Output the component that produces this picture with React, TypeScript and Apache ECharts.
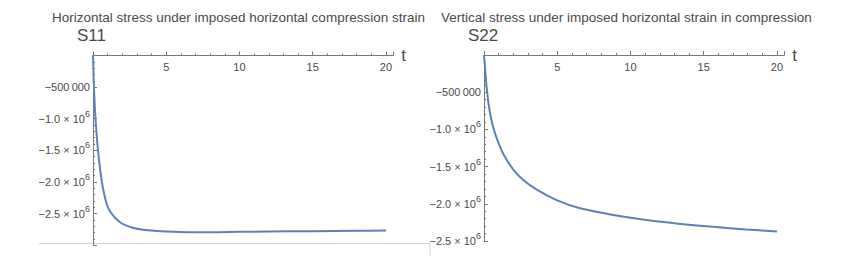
import React, { useEffect, useRef } from "react";
import * as echarts from "echarts";

// S11: horizontal stress
const s11Time = [0, 0.05, 0.1, 0.14, 0.2, 0.3, 0.4, 0.5, 0.6, 0.7, 0.85, 1.0, 1.2, 1.48, 1.8, 2.16, 2.7, 3.3, 4.0, 4.66, 5.5, 6.5, 8, 10, 12, 15, 18, 20];
const s11Values = [0, -400000, -700000, -890000, -1100000, -1400000, -1630000, -1830000, -1990000, -2120000, -2280000, -2390000, -2480000, -2560000, -2630000, -2680000, -2725000, -2752000, -2770000, -2782000, -2790000, -2795000, -2795000, -2790000, -2786000, -2779000, -2773000, -2770000];

// S22: vertical stress
const s22Time = [0, 0.1, 0.2, 0.3, 0.45, 0.6, 0.87, 1.32, 2.0, 2.68, 3.6, 4.96, 6.55, 8.83, 11.1, 13.4, 15.65, 17.9, 20];
const s22Values = [0, -250000, -470000, -640000, -820000, -950000, -1120000, -1330000, -1540000, -1680000, -1810000, -1950000, -2060000, -2150000, -2218000, -2270000, -2310000, -2345000, -2372000];

const xTicks = [5, 10, 15, 20];
const yTickLabels: Record<string, string> = {
  "-500000": "−500\u2009000",
  "-1000000": "−1.0 × 10{sup|6}",
  "-1500000": "−1.5 × 10{sup|6}",
  "-2000000": "−2.0 × 10{sup|6}",
  "-2500000": "−2.5 × 10{sup|6}",
};

const titleLeft = "Horizontal stress under imposed horizontal compression strain";
const titleRight = "Vertical stress under imposed horizontal strain in compression";

const FONT = "Liberation Sans, Arial, sans-serif";
const AXIS = "#777777";
const TEXT = "#4a4a4a";
const LINE = "#5E81B5";

function xAxisCfg(gridIndex: number) {
  return {
    type: "value",
    gridIndex,
    position: "top",
    min: 0,
    max: 20.5,
    interval: 5,
    name: "t",
    nameLocation: "end",
    nameGap: 8,
    nameTextStyle: { fontSize: 17, color: TEXT, fontFamily: FONT },
    axisLine: { show: true, onZero: false, lineStyle: { color: AXIS, width: 1 } },
    axisTick: { show: true, inside: false, length: 4, lineStyle: { color: AXIS } },
    minorTick: { show: true, splitNumber: 5, length: 2, lineStyle: { color: AXIS } },
    axisLabel: {
      inside: true,
      margin: 6,
      fontSize: 11,
      color: TEXT,
      fontFamily: FONT,
      formatter: (v: number) => (xTicks.includes(v) ? String(v) : ""),
    },
    splitLine: { show: false },
  };
}

function yAxisCfg(gridIndex: number, min: number) {
  return {
    type: "value",
    gridIndex,
    min,
    max: 0,
    interval: 500000,
    axisLine: { show: true, onZero: false, lineStyle: { color: AXIS, width: 1 } },
    axisTick: { show: true, inside: true, length: 4, lineStyle: { color: AXIS } },
    minorTick: { show: true, splitNumber: 5, length: 2, lineStyle: { color: AXIS } },
    axisLabel: {
      margin: 3,
      fontSize: 11,
      color: TEXT,
      fontFamily: FONT,
      formatter: (v: number) => yTickLabels[String(v)] ?? "",
      rich: {
        sup: { fontSize: 9, color: TEXT, fontFamily: FONT, padding: [0, 0, 10, 0] },
      },
    },
    splitLine: { show: false },
  };
}

export default function App() {
  const ref = useRef<HTMLDivElement>(null);
  useEffect(() => {
    if (!ref.current) return;
    const chart = echarts.init(ref.current, null, { renderer: "svg" });
    const s11 = s11Time.map((t, i) => [t, s11Values[i]]);
    const s22 = s22Time.map((t, i) => [t, s22Values[i]]);
    const titleStyle = { fontSize: 13.5, fontWeight: "normal", color: TEXT, fontFamily: FONT };
    const headStyle = { fontSize: 17, fontWeight: "normal", color: TEXT, fontFamily: FONT };
    chart.setOption({
      animation: false,
      backgroundColor: "#ffffff",
      textStyle: { fontFamily: FONT },
      title: [
        { text: titleLeft, left: 52, top: 10, padding: 0, textStyle: titleStyle },
        { text: "S11", left: 77, top: 27, padding: 0, textStyle: headStyle },
        { text: titleRight, left: 441, top: 10, padding: 0, textStyle: titleStyle },
        { text: "S22", left: 468, top: 27, padding: 0, textStyle: headStyle },
      ],
      grid: [
        { left: 93, top: 55.5, width: 300.3, height: 189.6, outerBoundsMode: "none", containLabel: false },
        { left: 484, top: 55, width: 300.3, height: 186, outerBoundsMode: "none", containLabel: false },
      ],
      xAxis: [xAxisCfg(0), xAxisCfg(1)],
      yAxis: [yAxisCfg(0, -3000000), yAxisCfg(1, -2500000)],
      series: [
        { type: "line", xAxisIndex: 0, yAxisIndex: 0, data: s11, smooth: 0.3, showSymbol: false, lineStyle: { color: LINE, width: 2 } },
        { type: "line", xAxisIndex: 1, yAxisIndex: 1, data: s22, smooth: 0.3, showSymbol: false, lineStyle: { color: LINE, width: 2 } },
      ],
      graphic: [
        { type: "line", shape: { x1: 39, y1: 243.5, x2: 430, y2: 243.5 }, style: { stroke: "#d0d0d0", lineWidth: 1 } },
        { type: "line", shape: { x1: 430, y1: 243.5, x2: 430, y2: 256 }, style: { stroke: "#d0d0d0", lineWidth: 1 } },
      ],
    });
    return () => chart.dispose();
  }, []);
  return <div ref={ref} style={{ position: "absolute", left: 0, top: 0, width: 843, height: 259 }} />;
}
